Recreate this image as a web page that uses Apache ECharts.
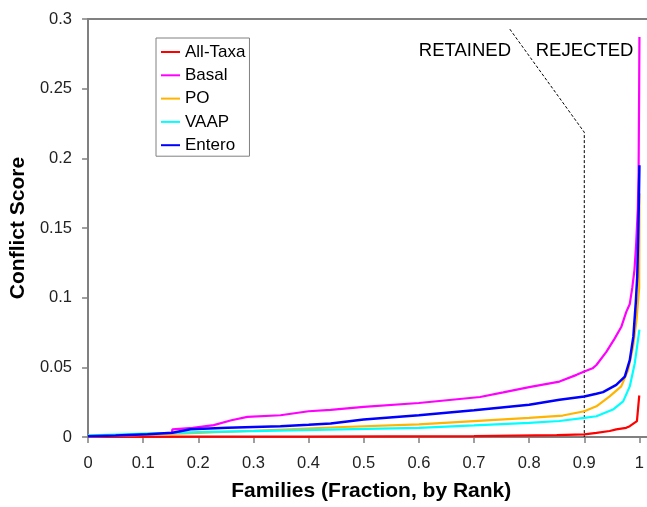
<!DOCTYPE html>
<html>
<head>
<meta charset="utf-8">
<script src="https://cdn.jsdelivr.net/npm/echarts@6/dist/echarts.min.js"></script>
<style>html,body{margin:0;padding:0;background:#fff;}#c{width:647px;height:507px;}</style>
</head>
<body>
<div id="c"></div>
<script>
var seriesNames = ['All-Taxa', 'Basal', 'PO', 'VAAP', 'Entero'];
var seriesColors = ['#ff0000', '#ff00ff', '#ffb400', '#00ffff', '#0000ff'];

var allTaxaX = [0, 0.2, 0.39, 0.391, 0.7, 0.701, 0.85, 0.9, 0.922, 0.946, 0.958, 0.976, 0.9825, 0.9955, 0.9995, 1.0];
var allTaxaY = [0.0001, 0.0002, 0.0003, 0.0005, 0.0006, 0.0012, 0.0014, 0.0019, 0.003, 0.0043, 0.0055, 0.0066, 0.0078, 0.0114, 0.029, 0.0298];

var basalX = [0, 0.05, 0.1, 0.152, 0.153, 0.19, 0.228, 0.26, 0.289, 0.349, 0.4, 0.44, 0.5, 0.6, 0.711, 0.753, 0.8, 0.855, 0.886, 0.9, 0.915, 0.922, 0.94, 0.955, 0.967, 0.976, 0.9825, 0.987, 0.991, 0.994, 0.997, 0.9985, 0.9995, 1.0];
var basalY = [0.0005, 0.001, 0.0015, 0.0025, 0.0055, 0.0065, 0.0085, 0.012, 0.0144, 0.0156, 0.0185, 0.0195, 0.0216, 0.0244, 0.0287, 0.032, 0.0358, 0.0398, 0.0446, 0.047, 0.0493, 0.0517, 0.0611, 0.0706, 0.0789, 0.0896, 0.0955, 0.107, 0.12, 0.138, 0.163, 0.19, 0.25, 0.287];

var poX = [0, 0.05, 0.1, 0.15, 0.2, 0.3, 0.45, 0.6, 0.7, 0.8, 0.861, 0.9, 0.922, 0.946, 0.967, 0.9795, 0.9885, 0.9946, 0.9995, 0.9998, 1.0];
var poY = [0.0005, 0.001, 0.0015, 0.0022, 0.003, 0.0045, 0.007, 0.009, 0.0114, 0.0137, 0.0154, 0.0185, 0.022, 0.0291, 0.0363, 0.0481, 0.0647, 0.0837, 0.107, 0.14, 0.175];

var vaapX = [0, 0.05, 0.1, 0.153, 0.2, 0.3, 0.4575, 0.6, 0.7, 0.8, 0.855, 0.9, 0.922, 0.952, 0.9705, 0.9825, 0.9915, 1.0];
var vaapY = [0.0012, 0.0018, 0.0024, 0.0029, 0.0035, 0.0042, 0.0055, 0.0066, 0.0083, 0.0102, 0.0115, 0.0137, 0.0149, 0.0197, 0.0256, 0.0363, 0.0528, 0.077];

var enteroX = [0, 0.05, 0.108, 0.153, 0.186, 0.253, 0.349, 0.4, 0.44, 0.5, 0.6, 0.7, 0.8, 0.855, 0.9, 0.922, 0.934, 0.958, 0.9735, 0.9825, 0.989, 0.9935, 0.996, 0.9975, 0.9988, 1.0];
var enteroY = [0.0005, 0.001, 0.0019, 0.003, 0.0055, 0.0066, 0.0078, 0.0088, 0.0097, 0.0126, 0.0156, 0.0192, 0.0232, 0.0268, 0.0291, 0.031, 0.0322, 0.0374, 0.0434, 0.0552, 0.072, 0.097, 0.115, 0.14, 0.165, 0.195];

var cutoffX = [0.765, 0.9, 0.9];
var cutoffY = [0.2927, 0.2187, 0];

var annotTexts = ['RETAINED', 'REJECTED'];
var annotX = [0.6835, 0.9005];
var annotY = [0.2768, 0.2768];

var xTicks = [0, 0.1, 0.2, 0.3, 0.4, 0.5, 0.6, 0.7, 0.8, 0.9, 1];

function zip(xs, ys) { return xs.map(function (x, i) { return [x, ys[i]]; }); }

var FONT = 'Liberation Sans, Arial, Helvetica, sans-serif';
var AXIS_GRAY = '#808080';

var lineData = [
  zip(allTaxaX, allTaxaY),
  zip(basalX, basalY),
  zip(poX, poY),
  zip(vaapX, vaapY),
  zip(enteroX, enteroY)
];

var series = seriesNames.map(function (n, i) {
  return {
    name: n, type: 'line', data: lineData[i], showSymbol: false, symbol: 'none',
    lineStyle: { color: seriesColors[i], width: (n === 'Entero' ? 2.5 : 2.2) },
    itemStyle: { color: seriesColors[i] }, z: 3 + i, silent: true
  };
});
series.push({
  name: 'cutoff', type: 'line', data: zip(cutoffX, cutoffY), showSymbol: false, symbol: 'none',
  lineStyle: { color: '#000', width: 1, type: [3, 2] }, z: 2, silent: true
});
series.push({
  name: 'annot', type: 'scatter', symbolSize: 1, silent: true,
  itemStyle: { color: 'transparent', opacity: 1 },
  data: annotTexts.map(function (t, i) { return { name: t, value: [annotX[i], annotY[i]] }; }),
  label: { show: true, position: 'inside', formatter: '{b}', color: '#000', opacity: 1, fontSize: 18.5, fontFamily: FONT }
});

var chart = echarts.init(document.getElementById('c'), null, { renderer: 'canvas' });
chart.setOption({
  animation: false,
  backgroundColor: '#fff',
  grid: { left: 87, right: 0, top: 19, bottom: 66, containLabel: false },
  legend: {
    data: seriesNames, orient: 'vertical', left: 156, top: 38,
    icon: 'rect', itemWidth: 19, itemHeight: 2, itemGap: 6.3,
    padding: [5.5, 4, 2.5, 5],
    borderColor: AXIS_GRAY, borderWidth: 1, backgroundColor: '#fff',
    textStyle: { fontSize: 17, lineHeight: 17, color: '#000', fontFamily: FONT },
    selectedMode: false
  },
  xAxis: [{
    type: 'value', min: 0, max: 1.0127, position: 'bottom',
    name: 'Families (Fraction, by Rank)', nameLocation: 'middle', nameGap: 44,
    nameTextStyle: { fontSize: 21, fontWeight: 'bold', color: '#000', fontFamily: FONT, padding: [0, 0, 0, 8] },
    axisLine: { show: true, onZero: false, lineStyle: { color: AXIS_GRAY, width: 2 } },
    axisTick: { show: true, length: 6, customValues: xTicks, lineStyle: { color: AXIS_GRAY, width: 1.5 } },
    axisLabel: { customValues: xTicks, margin: 18, fontSize: 16.5, color: '#222', fontFamily: FONT },
    splitLine: { show: false }
  }, {
    type: 'value', min: 0, max: 1.0127, position: 'top',
    axisLine: { show: true, onZero: false, lineStyle: { color: AXIS_GRAY, width: 2 } },
    axisTick: { show: false }, axisLabel: { show: false }, splitLine: { show: false }
  }],
  yAxis: {
    type: 'value', min: 0, max: 0.3, interval: 0.05,
    name: 'Conflict Score', nameLocation: 'middle', nameGap: 58,
    nameTextStyle: { fontSize: 21, fontWeight: 'bold', color: '#000', fontFamily: FONT },
    axisLine: { show: true, lineStyle: { color: AXIS_GRAY, width: 2 } },
    axisTick: { show: true, length: 6, lineStyle: { color: AXIS_GRAY, width: 1.5 } },
    axisLabel: { margin: 16, fontSize: 16.5, color: '#222', fontFamily: FONT },
    splitLine: { show: false }
  },
  series: series
});
</script>
</body>
</html>
